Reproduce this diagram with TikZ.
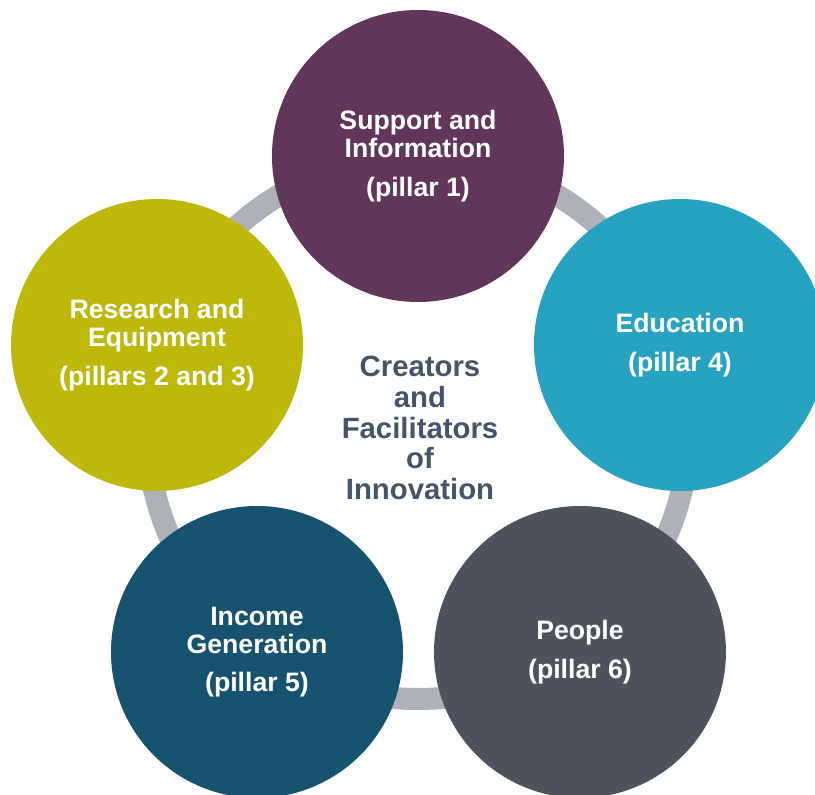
\documentclass[tikz,border=0pt]{standalone}
\usepackage{fontspec}
\setsansfont{Liberation Sans}
\definecolor{supportcol}{HTML}{62355A}
\definecolor{educol}{HTML}{27A2C1}
\definecolor{researchcol}{HTML}{BDB80A}
\definecolor{incomecol}{HTML}{17536E}
\definecolor{peoplecol}{HTML}{4D525C}
\definecolor{ringcol}{HTML}{AEB1B7}
\definecolor{hubcol}{HTML}{44546A}
\begin{document}
\begin{tikzpicture}[x=0.75pt,y=-0.75pt]
  \tikzstyle{pillar}=[circle,minimum size=219pt,inner sep=0pt,text=white,align=center,
                      font=\sffamily\bfseries\fontsize{20}{21}\selectfont]
  \tikzstyle{hub}=[text=hubcol,align=center,font=\sffamily\bfseries\fontsize{22}{23}\selectfont]
  \def\ringrad{271} % radius of the ring
  \def\ringw{16.5pt} % width of the ring
  \def\pgap{8pt} % extra space above the pillar line
  \useasboundingbox (0,0) rectangle (815,795);
  \clip (0,0) rectangle (815,795);
  \coordinate (hubc) at (418,428);
  \draw[ringcol,line width=\ringw] (hubc) circle (\ringrad);
  \node[pillar,fill=supportcol] (support) at (418,156) {Support and\\Information\\[\pgap](pillar 1)};
  \node[pillar,fill=educol] (education) at (680,345) {Education\\[\pgap](pillar 4)};
  \node[pillar,fill=peoplecol] (people) at (580,652) {People\\[\pgap](pillar 6)};
  \node[pillar,fill=incomecol] (income) at (257,652) {Income\\Generation\\[\pgap](pillar 5)};
  \node[pillar,fill=researchcol] (research) at (157,345) {Research and\\Equipment\\[\pgap](pillars 2 and 3)};
  \node[hub] (creators) at ([xshift=1.5pt]hubc) {Creators\\and\\Facilitators\\of\\Innovation};
\end{tikzpicture}
\end{document}
